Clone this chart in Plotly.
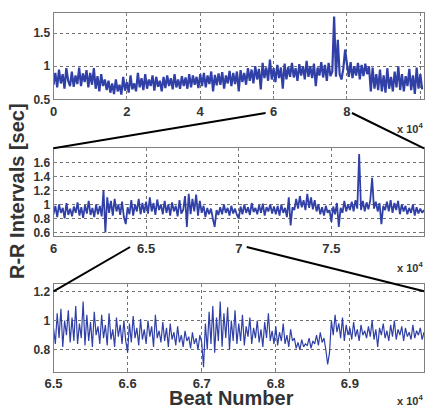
import numpy as np
import plotly.graph_objects as go

# ---------------- data (R-R intervals, seconds) ----------------
# top panel: whole record, one reading every 500 beats
top_step = 500
top_rr = [
    0.72,0.90,0.68,0.95,0.74,0.88,0.66,0.97,0.78,0.70,
    0.92,0.69,0.86,0.73,0.98,0.70,0.89,0.76,0.94,0.68,
    0.90,0.72,0.97,0.66,0.85,0.62,0.88,0.70,0.80,0.64,
    0.78,0.60,0.74,0.58,0.80,0.62,0.72,0.57,0.84,0.63,
    0.76,0.60,0.86,0.65,0.74,0.62,0.90,0.68,0.82,0.64,
    0.88,0.66,0.80,0.70,0.86,0.63,0.84,0.69,0.78,0.62,
    0.84,0.67,0.86,0.70,0.82,0.65,0.88,0.68,0.80,0.66,
    0.85,0.70,0.83,0.66,0.88,0.68,0.86,0.72,0.84,0.67,
    0.88,0.70,0.90,0.68,0.86,0.73,0.92,0.62,0.87,0.71,
    0.89,0.72,0.91,0.66,0.86,0.74,0.93,0.70,0.90,0.73,
    0.92,0.62,0.94,0.76,0.90,0.72,0.97,0.78,0.95,0.74,
    1.00,0.80,0.96,0.65,1.05,0.82,0.98,0.78,1.10,0.80,
    0.97,0.76,1.02,0.82,0.98,0.66,1.04,0.80,0.99,0.84,
    1.05,0.83,0.97,0.78,1.03,0.86,1.00,0.80,1.08,0.84,
    1.00,0.82,1.04,0.70,0.98,0.86,1.06,0.83,1.02,0.78,
    1.05,0.85,0.92,1.75,0.84,1.40,0.88,0.80,0.96,1.25,
    1.03,0.84,1.06,0.82,1.00,0.86,1.05,0.80,1.02,0.85,
    1.04,0.88,1.00,0.62,0.98,0.66,0.88,0.64,0.95,0.62,
    0.86,0.60,0.97,0.66,0.84,0.62,0.92,0.68,1.00,0.64,
    0.88,0.62,0.85,0.70,0.96,0.64,0.86,0.58,0.98,0.66,
    0.88,0.65,
]

# middle panel: beats 60000-80000, one reading every 100 beats
mid_start, mid_step = 60000, 100
mid_rr = [
    0.86,0.98,0.82,1.00,0.88,0.95,0.80,1.02,0.85,0.94,
    0.83,0.97,0.88,1.03,0.84,0.96,0.81,0.99,0.87,1.05,
    0.85,0.95,0.82,1.00,0.86,0.98,0.83,1.20,0.60,1.10,
    0.88,1.05,0.84,1.08,0.90,1.00,0.85,1.04,0.82,0.72,
    0.96,0.86,1.06,0.84,1.00,0.90,1.08,0.86,1.02,0.88,
    1.04,0.87,1.10,0.90,1.02,0.85,1.07,0.92,1.00,0.86,
    1.05,0.88,1.00,0.84,1.03,0.90,0.98,0.83,1.06,0.87,
    0.92,1.12,0.68,1.15,0.86,1.08,0.90,1.14,0.84,1.05,
    0.88,0.98,0.82,0.95,0.86,0.94,0.80,0.68,0.92,0.85,
    0.96,0.86,1.00,0.88,0.95,0.84,0.98,0.87,0.94,0.85,
    0.80,0.97,0.86,1.00,0.88,0.96,0.85,1.02,0.89,0.95,
    0.86,0.99,0.88,1.01,0.84,0.96,0.90,1.00,0.87,0.97,
    0.86,0.98,0.84,1.00,0.88,0.95,0.82,1.10,0.70,0.96,
    0.92,1.08,0.94,1.12,0.96,1.06,0.92,1.15,0.95,1.10,
    0.93,1.06,0.90,1.00,0.86,0.96,0.84,0.98,0.88,0.92,
    0.75,0.97,0.86,1.02,0.68,0.95,0.88,1.05,0.90,1.00,
    0.92,1.04,0.90,1.06,0.94,1.72,0.92,1.05,0.90,1.03,
    0.93,1.06,1.38,0.94,1.04,0.90,1.02,0.72,0.98,0.92,
    1.04,0.90,1.06,0.88,1.02,0.92,1.05,0.86,1.00,0.90,
    0.98,0.86,0.95,0.88,1.00,0.84,0.96,0.87,0.94,0.88,
    0.92,
]

# bottom panel: beats 65000-70000, one reading every 25 beats
bot_start, bot_step = 65000, 25
bot_rr = [
    0.95,0.84,1.05,0.88,1.08,0.82,1.00,0.90,1.07,0.85,
    1.02,0.86,1.10,0.84,0.98,0.88,1.13,0.83,1.04,0.86,
    0.99,0.82,1.06,0.90,0.96,0.84,1.04,0.88,0.97,0.83,
    1.05,0.87,0.94,0.82,1.02,0.89,0.97,0.84,1.00,0.86,
    0.78,0.98,0.85,1.03,0.88,0.95,0.83,1.01,0.87,0.94,
    0.84,1.00,0.89,0.96,0.82,1.04,0.88,0.93,0.85,0.99,
    0.86,0.95,0.82,0.98,0.87,0.92,0.83,0.96,0.85,0.90,
    0.82,0.93,0.86,0.89,0.81,0.92,0.84,0.88,0.80,0.90,
    0.85,0.68,0.98,0.80,1.06,0.84,1.10,0.78,1.02,0.86,
    1.13,0.82,1.05,0.88,1.09,0.80,1.00,0.86,1.07,0.84,
    0.98,0.86,1.04,0.83,0.96,0.89,1.02,0.84,0.95,0.88,
    1.00,0.85,0.94,0.82,0.99,0.88,1.05,0.86,0.93,0.84,
    0.96,0.83,0.92,0.86,0.98,0.84,0.90,0.82,0.94,0.86,
    0.88,0.81,0.85,0.80,0.87,0.82,0.84,0.83,0.88,0.81,
    0.86,0.84,0.90,0.83,0.92,0.85,0.88,0.80,0.70,0.78,
    1.00,0.90,1.04,0.92,0.98,0.88,1.02,0.86,0.97,0.90,
    0.95,0.87,0.99,0.89,0.94,0.86,0.97,0.90,0.93,0.88,
    0.96,0.89,1.00,0.87,0.94,0.82,0.95,0.90,0.98,0.88,
    0.93,0.86,0.97,0.89,1.00,0.87,0.94,0.90,0.96,0.86,
    0.95,0.89,0.92,0.87,0.97,0.88,0.93,0.90,0.95,0.87,
    0.92,
]

# axis settings (x in units of 10^4 beats)
top_xrange, top_yrange = [0, 10.1], [0.5, 1.8]
mid_xrange, mid_yrange = [6, 8], [0.55, 1.8]
bot_xrange, bot_yrange = [6.5, 7.0], [0.65, 1.25]
top_xticks, top_yticks = [0, 2, 4, 6, 8, 10], [0.5, 1, 1.5]
mid_xticks, mid_yticks = [6, 6.5, 7, 7.5, 8], [0.6, 0.8, 1, 1.2, 1.4, 1.6]
bot_xticks, bot_yticks = [6.5, 6.6, 6.7, 6.8, 6.9, 7], [0.8, 1, 1.2]

# ---------------- figure ----------------
W, H = 426, 408
LINE = "#3040A6"

def beats(start, step, n):
    return (start + step * np.arange(n)) / 1e4

top_x = beats(0, top_step, len(top_rr))
mid_x = beats(mid_start, mid_step, len(mid_rr))
bot_x = beats(bot_start, bot_step, len(bot_rr))

xdom = [53.5 / W, 424 / W]
def ydom(top_px, bot_px):
    return [1 - bot_px / H, 1 - top_px / H]
top_dom = ydom(13.3, 99.3)
mid_dom = ydom(148.3, 236)
bot_dom = ydom(284, 371.7)

fig = go.Figure()
fig.add_trace(go.Scatter(x=top_x, y=top_rr, mode="lines", xaxis="x", yaxis="y",
                         line=dict(color=LINE, width=2.2, simplify=False)))
fig.add_trace(go.Scatter(x=mid_x, y=mid_rr, mode="lines", xaxis="x2", yaxis="y2",
                         line=dict(color=LINE, width=1.8, simplify=False)))
fig.add_trace(go.Scatter(x=bot_x, y=bot_rr, mode="lines", xaxis="x3", yaxis="y3",
                         line=dict(color=LINE, width=1.2, simplify=False)))

FONT = "Liberation Sans"
def common():
    return dict(showgrid=True, gridcolor="#707070", griddash="dot", gridwidth=1,
                showline=True, linecolor="#808080", linewidth=1, mirror="ticks",
                ticks="inside", ticklen=3, tickcolor="#808080", zeroline=False,
                automargin=False)
def xax(rng, ticks, anchor):
    d = common()
    d.update(range=rng, tickvals=ticks, ticktext=[f"{t:g}" for t in ticks],
             domain=xdom, anchor=anchor, ticklabelstandoff=0,
             tickfont=dict(family=FONT, size=13, color="#333333", weight="bold"))
    return d
def yax(rng, ticks, anchor, dom):
    d = common()
    d.update(range=rng, tickvals=ticks, ticktext=[f"{t:g}" for t in ticks],
             domain=dom, anchor=anchor, ticklabelstandoff=0,
             tickfont=dict(family=FONT, size=12, color="#333333", weight="bold"))
    return d

fig.update_layout(
    template="none",
    width=W, height=H, margin=dict(l=0, r=0, t=0, b=0, autoexpand=False),
    paper_bgcolor="white", plot_bgcolor="white", showlegend=False,
    xaxis=xax(top_xrange, top_xticks, "y"),
    yaxis=yax(top_yrange, top_yticks, "x", top_dom),
    xaxis2=xax(mid_xrange, mid_xticks, "y2"),
    yaxis2=yax(mid_yrange, mid_yticks, "x2", mid_dom),
    xaxis3=xax(bot_xrange, bot_xticks, "y3"),
    yaxis3=yax(bot_yrange, bot_yticks, "x3", bot_dom),
)

# helpers to map axis values to paper coordinates
def px_x(v, rng):
    return xdom[0] + (v - rng[0]) / (rng[1] - rng[0]) * (xdom[1] - xdom[0])
def py_y(v, rng, dom):
    return dom[0] + (v - rng[0]) / (rng[1] - rng[0]) * (dom[1] - dom[0])

# zoom connector lines
def conn(x0, y0px, x1, y1):
    fig.add_shape(type="line", xref="paper", yref="paper",
                  x0=x0, y0=1 - y0px / H, x1=x1, y1=y1,
                  line=dict(color="black", width=2))
conn(px_x(mid_xrange[0], top_xrange) - 8 / W, 113, xdom[0], mid_dom[1])
conn(px_x(mid_xrange[1], top_xrange) + 5 / W, 113, xdom[1], mid_dom[1])
conn(px_x(bot_xrange[0], mid_xrange) - 16 / W, 247, xdom[0], py_y(1.2, bot_yrange, bot_dom))
conn(px_x(bot_xrange[1], mid_xrange) + 8 / W, 247, xdom[1], py_y(1.2, bot_yrange, bot_dom))

# "x 10^4" multipliers
for ypx in [128, 267, 400]:
    fig.add_annotation(xref="paper", yref="paper", x=395 / W, y=1 - ypx / H,
                       xanchor="left", yanchor="middle", showarrow=False,
                       text="<b>x 10<sup>4</sup></b>",
                       font=dict(family=FONT, size=11, color="#333333"))

# axis titles
fig.add_annotation(xref="paper", yref="paper", x=17 / W, y=1 - 191 / H,
                   text="<b>R-R Intervals [sec]</b>", textangle=-90, showarrow=False,
                   xanchor="center", yanchor="middle",
                   font=dict(family=FONT, size=20, color="#333333"))
fig.add_annotation(xref="paper", yref="paper", x=231 / W, y=1 - 398 / H,
                   text="<b>Beat Number</b>", showarrow=False,
                   xanchor="center", yanchor="middle",
                   font=dict(family=FONT, size=20, color="#333333"))

fig.write_html("out.html", config={"displayModeBar": False},
               post_script="document.body.style.margin='0';document.body.style.overflow='hidden';")
